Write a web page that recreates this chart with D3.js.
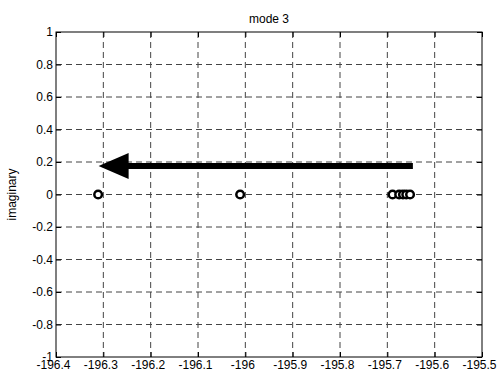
<html lang="en">
<head>
<meta charset="UTF-8">
<title>mode 3</title>
<style>
  body { margin: 0; background: #fff; }
  text { font-family: "Liberation Sans", Arial, sans-serif; }
</style>
</head>
<body>
<script src="https://d3js.org/d3.v7.min.js"></script>
<div id="my_dataviz"></div>
<script>

// data
var realParts = [-196.311, -196.011, -195.689, -195.675, -195.667, -195.660, -195.652];
var imagParts = [0, 0, 0, 0, 0, 0, 0];
var arrowFrom = [-195.646, 0.175];
var arrowTo = [-196.31, 0.175];
var xTicks = [-196.4, -196.3, -196.2, -196.1, -196, -195.9, -195.8, -195.7, -195.6, -195.5];
var yTicks = [-1, -0.8, -0.6, -0.4, -0.2, 0, 0.2, 0.4, 0.6, 0.8, 1];

var margin = {top: 32, right: 17, bottom: 24, left: 56},
    width = 499 - margin.left - margin.right,
    height = 381 - margin.top - margin.bottom;

var svg = d3.select("#my_dataviz")
  .append("svg")
    .attr("width", 499)
    .attr("height", 381)
  .append("g")
    .attr("transform", "translate(" + margin.left + "," + margin.top + ")");

var x = d3.scaleLinear().domain([-196.4, -195.5]).range([0, width]);
var y = d3.scaleLinear().domain([-1, 1]).range([height, 0]);

// grid
svg.selectAll("vgrid")
  .data(xTicks.slice(1, -1))
  .enter()
  .append("line")
    .attr("x1", function(d) { return x(d); })
    .attr("x2", function(d) { return x(d); })
    .attr("y1", 0)
    .attr("y2", height)
    .attr("stroke", "#444")
    .attr("stroke-dasharray", "6,4");
svg.selectAll("hgrid")
  .data(yTicks.slice(1, -1))
  .enter()
  .append("line")
    .attr("y1", function(d) { return y(d); })
    .attr("y2", function(d) { return y(d); })
    .attr("x1", 0)
    .attr("x2", width)
    .attr("stroke", "#444")
    .attr("stroke-dasharray", "6,4");

// axes with inward ticks on all sides
function styleAxis(g) {
  g.select(".domain").remove();
  g.selectAll("text").style("font-size", "12px").attr("fill", "#000");
  g.selectAll("line").attr("stroke", "#000");
}
// plain hyphen minus like the original
var fmt = function(d) { return String(+d.toFixed(1)); };
svg.append("g")
  .attr("transform", "translate(0," + height + ")")
  .call(d3.axisBottom(x).tickValues(xTicks).tickFormat(fmt).tickSizeInner(-5).tickSizeOuter(0).tickPadding(3))
  .call(styleAxis)
  .selectAll("text").attr("dx", -3);
svg.append("g")
  .call(d3.axisTop(x).tickValues(xTicks).tickFormat("").tickSizeInner(-5).tickSizeOuter(0))
  .call(styleAxis);
svg.append("g")
  .call(d3.axisLeft(y).tickValues(yTicks).tickFormat(fmt).tickSizeInner(-5).tickSizeOuter(0).tickPadding(3))
  .call(styleAxis);
svg.append("g")
  .attr("transform", "translate(" + width + ",0)")
  .call(d3.axisRight(y).tickValues(yTicks).tickFormat("").tickSizeInner(-5).tickSizeOuter(0))
  .call(styleAxis);

svg.append("rect")
  .attr("width", width)
  .attr("height", height)
  .attr("fill", "none")
  .attr("stroke", "#000");

// arrow
var tipX = x(arrowTo[0]), ay = y(arrowTo[1]);
svg.append("line")
  .attr("x1", x(arrowFrom[0]))
  .attr("x2", tipX + 25)
  .attr("y1", y(arrowFrom[1]))
  .attr("y2", ay)
  .attr("stroke", "#000")
  .attr("stroke-width", 6);
svg.append("path")
  .attr("d", "M" + tipX + "," + ay + "L" + (tipX + 30) + "," + (ay - 13) + "L" + (tipX + 30) + "," + (ay + 13) + "Z")
  .attr("fill", "#000");

// points
svg.selectAll("mycircle")
  .data(realParts)
  .enter()
  .append("circle")
    .attr("cx", function(d) { return x(d); })
    .attr("cy", function(d, i) { return y(imagParts[i]); })
    .attr("r", 3.8)
    .attr("fill", "#fff")
    .attr("stroke", "#000")
    .attr("stroke-width", 2.5);

// labels
svg.append("text")
  .attr("x", width / 2)
  .attr("y", -9)
  .attr("text-anchor", "middle")
  .style("font-size", "12px")
  .text("mode 3");
svg.append("text")
  .attr("x", width / 2)
  .attr("y", height + 35)
  .attr("text-anchor", "middle")
  .style("font-size", "12px")
  .text("real");
svg.append("text")
  .attr("transform", "translate(-40," + (height / 2) + ")rotate(-90)")
  .attr("text-anchor", "middle")
  .style("font-size", "12px")
  .text("imaginary");

</script>
</body>
</html>
